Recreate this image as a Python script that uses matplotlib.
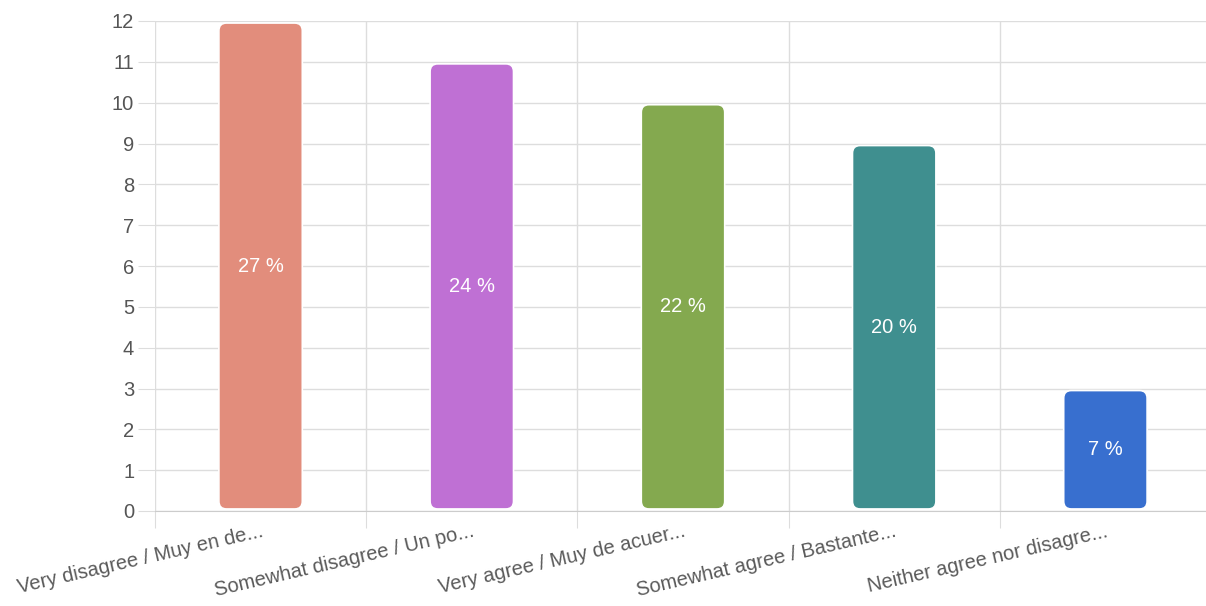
import matplotlib.pyplot as plt
from matplotlib.patches import FancyBboxPatch

categories = ["Very disagree / Muy en de...", "Somewhat disagree / Un po...",
              "Very agree / Muy de acuer...", "Somewhat agree / Bastante...",
              "Neither agree nor disagre..."]
counts = [12, 11, 10, 9, 3]
percents = ["27 %", "24 %", "22 %", "20 %", "7 %"]
colors = ["#e28d7c", "#bf70d4", "#84a94f", "#3f8f8f", "#386fcf"]

plt.rcParams['font.family'] = ['Liberation Sans', 'DejaVu Sans']

fig = plt.figure(figsize=(12.06, 6.06), dpi=100)
ax = fig.add_axes([155 / 1206, 95 / 606, 1056 / 1206, 490 / 606])

n = len(categories)
ax.set_xlim(-0.5, n - 0.5)
ax.set_ylim(0, 12)

# plain bars first, then swap them for rounded boxes
bars = ax.bar(range(n), counts, width=0.395, color=colors)
px_x = 1056 / n
px_y = 490 / 12
for b, c in zip(bars, colors):
    b.set_visible(False)
    box = FancyBboxPatch((b.get_x(), 0.05), b.get_width(), b.get_height() - 0.1,
                         boxstyle="round,pad=0,rounding_size=0.036",
                         mutation_aspect=px_x / px_y,
                         facecolor=c, edgecolor="#ffffff", linewidth=1.2,
                         zorder=3)
    ax.add_patch(box)

for i, (v, p) in enumerate(zip(counts, percents)):
    ax.text(i, v / 2, p, ha="center", va="center", color="white",
            fontsize=14.5, zorder=4)

# grid
ax.set_yticks(range(0, 13))
ax.set_xticks([i - 0.5 for i in range(n + 1)], minor=False)
ax.set_xticklabels([])
ax.set_xticks(range(n), minor=True)
ax.set_xticklabels(categories, minor=True, rotation=13, ha="right", va="top",
                   rotation_mode="anchor", fontsize=14.5, color="#5a5a5a")
ax.tick_params(axis="x", which="minor", length=0, pad=8)
ax.tick_params(axis="x", which="major", length=12, color="#dddddd")
ax.tick_params(axis="y", length=12, color="#dddddd", labelsize=14.5,
               labelcolor="#555555", pad=3)
ax.grid(True, which="major", color="#dddddd", linewidth=1, zorder=0)
ax.set_axisbelow(True)
for s in ["top", "right", "left"]:
    ax.spines[s].set_visible(False)
ax.spines["bottom"].set_color("#cccccc")

fig.savefig("out.png", dpi=100)
